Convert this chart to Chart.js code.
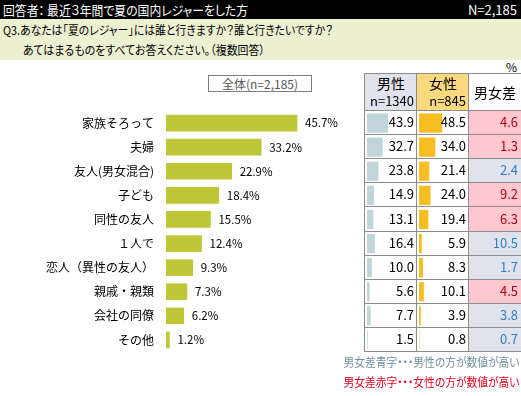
<!DOCTYPE html>
<html>
<head>
<meta charset="utf-8">
<script src="https://cdn.jsdelivr.net/npm/chart.js@4.4.1/dist/chart.umd.min.js"></script>
<style>
  body { margin: 0; background: #fff; font-family: "Noto Sans CJK JP", sans-serif; }
  #wrap { position: relative; width: 521px; height: 396px; overflow: hidden; }
  .abs { position: absolute; white-space: nowrap; }
  .palt { font-feature-settings: "palt"; }
  .cell { position: absolute; box-sizing: border-box; border: 1px solid #8c8c8c; }
  .num { position: absolute; font-size: 13px; line-height: 24px; text-align: right; }
  canvas { position: absolute; }
</style>
</head>
<body>
<div id="wrap">
  <div class="abs" style="left:0;top:0;width:521px;height:19px;background:#000;"></div>
  <div class="abs palt fit" data-w="245" style="left:3px;top:0;line-height:19px;font-size:13px;color:#fff;transform-origin:left;">回答者： 最近３年間で夏の国内レジャーをした方</div>
  <div class="abs" style="right:4px;top:0;line-height:19px;font-size:13px;color:#fff;">N=2,185</div>
  <div class="abs" style="left:0;top:19px;width:521px;height:41px;background:#EEF0D2;"></div>
  <div class="abs palt fit" data-w="330" style="left:3px;top:21px;line-height:18px;font-size:12px;color:#000;transform-origin:left;">Q3.あなたは「夏のレジャー」には誰と行きますか？誰と行きたいですか？</div>
  <div class="abs palt fit" data-w="242" style="left:23px;top:41px;line-height:18px;font-size:12px;color:#000;transform-origin:left;">あてはまるものをすべてお答えください。（複数回答）</div>
  <div class="abs" style="right:4px;top:59px;line-height:16px;font-size:12px;color:#000;">%</div>
  <div class="abs" style="left:208px;top:75px;width:104px;height:17px;box-sizing:border-box;border:1px solid #7f7f7f;font-size:12px;line-height:15px;text-align:center;color:#595959;">全体(n=2,185)</div>

  <div id="table"></div>

  <canvas id="mainChart" width="350" height="241" style="left:0;top:111px;"></canvas>
  <canvas id="maleChart" width="48" height="241" style="left:367px;top:111px;"></canvas>
  <canvas id="femaleChart" width="48" height="241" style="left:419px;top:111px;"></canvas>

  <div id="nums"></div>

  <div class="abs palt fit" data-w="176" style="right:2px;top:352px;line-height:20px;font-size:12px;color:#6F909C;transform-origin:right;">男女差青字・・・男性の方が数値が高い</div>
  <div class="abs palt fit" data-w="176" style="right:2px;top:372px;line-height:20px;font-size:12px;color:#E8001C;transform-origin:right;">男女差赤字・・・女性の方が数値が高い</div>
</div>

<script>
const categories = ["家族そろって", "夫婦", "友人(男女混合)", "子ども", "同性の友人", "１人で", "恋人（異性の友人）", "親戚・親類", "会社の同僚", "その他"];
const totalValues = [45.7, 33.2, 22.9, 18.4, 15.5, 12.4, 9.3, 7.3, 6.2, 1.2];
const maleValues = [43.9, 32.7, 23.8, 14.9, 13.1, 16.4, 10.0, 5.6, 7.7, 1.5];
const femaleValues = [48.5, 34.0, 21.4, 24.0, 19.4, 5.9, 8.3, 10.1, 3.9, 0.8];
const diffValues = [4.6, 1.3, 2.4, 9.2, 6.3, 10.5, 1.7, 4.5, 3.8, 0.7];
const maleN = "n=1340";
const femaleN = "n=845";

Chart.defaults.font.family = "'Noto Sans CJK JP', sans-serif";

// squeeze header/footer text to the widths in the picture
document.querySelectorAll(".fit").forEach(el => {
  const w = el.getBoundingClientRect().width;
  el.style.transform = "scaleX(" + (Number(el.dataset.w) / w) + ")";
});

// table grid
const colX = [364, 416, 468, 522];
const rowY = [73, 110];
for (let i = 1; i <= 10; i++) rowY.push(Math.round(110 + 24.1 * i));

const table = document.getElementById("table");
const nums = document.getElementById("nums");

function addCell(parent, x0, y0, x1, y1, bg) {
  const d = document.createElement("div");
  d.className = "cell";
  d.style.left = x0 + "px";
  d.style.top = y0 + "px";
  d.style.width = (x1 - x0 + 1) + "px";
  d.style.height = (y1 - y0 + 1) + "px";
  d.style.background = bg;
  parent.appendChild(d);
}

function addText(x1, y0, h, txt, color, size) {
  const d = document.createElement("div");
  d.className = "num";
  d.style.right = (521 - x1) + "px";
  d.style.top = y0 + "px";
  d.style.lineHeight = h + "px";
  d.style.color = color;
  if (size) d.style.fontSize = size + "px";
  d.textContent = txt;
  nums.appendChild(d);
}

// header cells
addCell(table, colX[0], rowY[0], colX[1], rowY[1], "#E0E3EB");
addCell(table, colX[1], rowY[0], colX[2], rowY[1], "#FBD97F");
addCell(table, colX[2], rowY[0], colX[3], rowY[1], "#FFFFFF");

const hdr = (x, y, txt, size) => {
  const d = document.createElement("div");
  d.className = "abs";
  d.style.left = x + "px";
  d.style.top = y + "px";
  d.style.fontSize = size + "px";
  d.style.lineHeight = "18px";
  d.textContent = txt;
  nums.appendChild(d);
};
hdr(377, 74, "男性", 14);
hdr(429, 74, "女性", 14);
hdr(474, 83, "男女差", 14);
addText(414, 92, 18, maleN, "#000", 13);
addText(466, 92, 18, femaleN, "#000", 13);

for (let i = 0; i < categories.length; i++) {
  const y0 = rowY[i + 1], y1 = rowY[i + 2];
  const maleHigher = maleValues[i] > femaleValues[i];
  addCell(table, colX[0], y0, colX[1], y1, "#FFFFFF");
  addCell(table, colX[1], y0, colX[2], y1, "#FFFFFF");
  addCell(table, colX[2], y0, colX[3], y1, maleHigher ? "#E0E3EB" : "#FFC8CE");
  addText(414, y0, y1 - y0, maleValues[i].toFixed(1), "#000");
  addText(466, y0, y1 - y0, femaleValues[i].toFixed(1), "#000");
  addText(518, y0, y1 - y0, diffValues[i].toFixed(1), maleHigher ? "#2F7FC6" : "#B4001E");
}

// value labels next to the main bars
const valueLabels = {
  id: "valueLabels",
  afterDatasetsDraw(chart) {
    const ctx = chart.ctx;
    const meta = chart.getDatasetMeta(0);
    ctx.save();
    ctx.font = "11.5px 'Noto Sans CJK JP', sans-serif";
    ctx.fillStyle = "#000";
    ctx.textAlign = "left";
    ctx.textBaseline = "middle";
    meta.data.forEach((bar, i) => {
      ctx.fillText(totalValues[i].toFixed(1) + "%", bar.x + 8, bar.y);
    });
    ctx.restore();
  }
};

new Chart(document.getElementById("mainChart"), {
  type: "bar",
  data: {
    labels: categories,
    datasets: [{ data: totalValues, backgroundColor: "#BDC738", barThickness: 16 }]
  },
  options: {
    indexAxis: "y",
    responsive: false,
    animation: false,
    layout: { padding: { right: 12, left: 0, top: 0, bottom: 0 } },
    plugins: { legend: { display: false }, tooltip: { enabled: false } },
    scales: {
      x: { display: false, min: 0, max: 60 },
      y: {
        grid: { display: false, drawTicks: false },
        border: { display: false },
        ticks: { padding: 12, color: "#000", font: { size: 12 } },
        afterFit(scale) {
          scale.width = 166;
          scale.paddingTop = 0;
          scale.paddingBottom = 0;
        }
      }
    }
  },
  plugins: [valueLabels]
});

function miniChart(id, values, color) {
  new Chart(document.getElementById(id), {
    type: "bar",
    data: {
      labels: categories,
      datasets: [{ data: values, backgroundColor: color, categoryPercentage: 1, barPercentage: 0.8 }]
    },
    options: {
      indexAxis: "y",
      responsive: false,
      animation: false,
      plugins: { legend: { display: false }, tooltip: { enabled: false } },
      scales: {
        x: { display: false, min: 0, max: 100 },
        y: { display: false }
      }
    }
  });
}
miniChart("maleChart", maleValues, "#C0D5DB");
miniChart("femaleChart", femaleValues, "#F7BE22");
</script>
</body>
</html>
